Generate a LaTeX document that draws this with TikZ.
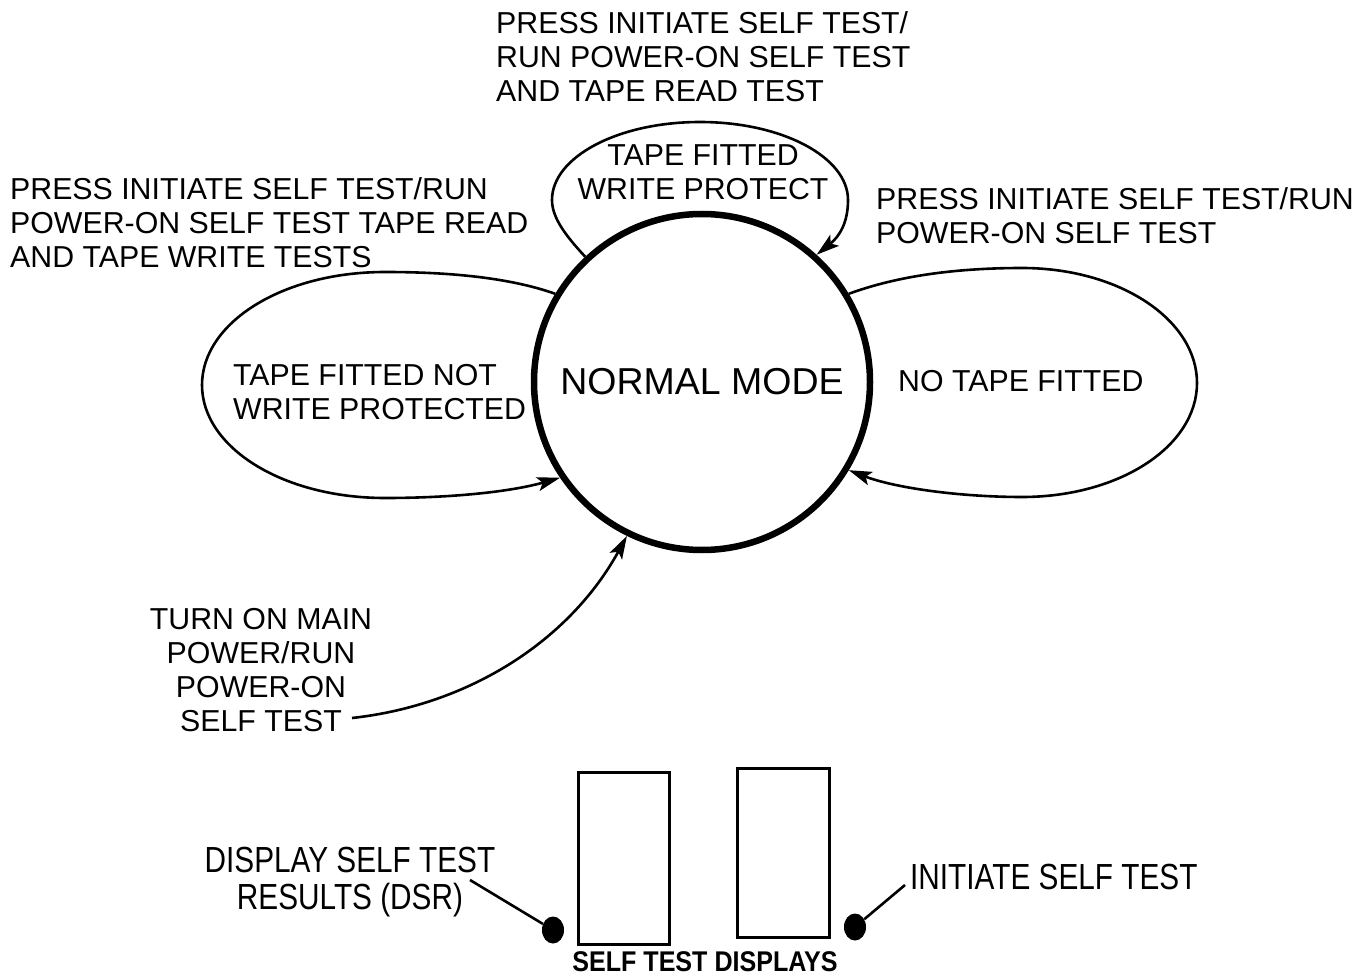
\documentclass[tikz,border=0pt]{standalone}
\usepackage{fontspec}
\setmainfont{Liberation Sans}
\newfontfamily\narrowfont[FakeStretch=0.82]{Liberation Sans}
\newfontfamily\narrowbold[FakeStretch=0.88]{Liberation Sans Bold}
\usetikzlibrary{arrows.meta,shapes.geometric}
\begin{document}
\begin{tikzpicture}[x=1pt,y=1pt,
  lbl/.style={inner sep=0pt, font=\fontsize{30.3}{34}\selectfont},
  loopline/.style={line width=2.6pt, -{Stealth[length=23pt,width=14pt,inset=5pt]}},
  plainline/.style={line width=2.6pt},
  dispbox/.style={draw, line width=3pt, rectangle, inner sep=0pt},
  lamp/.style={ellipse, fill=black, inner sep=0pt, minimum width=22pt, minimum height=27pt},
  botlbl/.style={inner sep=0pt, font=\narrowfont\fontsize{36.3}{37}\selectfont}]
\useasboundingbox (0,0) rectangle (1369,-976);
\fill[white] (0,0) rectangle (1369,-976);

% main state
\node[circle, draw, line width=6.5pt, minimum size=336pt, inner sep=0pt,
      font=\fontsize{37.5}{40}\selectfont] (main) at (702,-382) {NORMAL MODE};

% loops
\draw[loopline] (main.149) .. controls (505,-276) and (440,-272) .. (385,-272)
   .. controls (282,-272) and (202,-323) .. (202,-385)
   .. controls (202,-447) and (282,-498) .. (385,-498)
   .. controls (450,-498) and (510,-492) .. (main.214);
\draw[loopline] (main.133) .. controls (566,-236) and (552,-218) .. (552,-200)
   .. controls (552,-157) and (618,-122) .. (700,-122)
   .. controls (782,-122) and (848,-157) .. (848,-200)
   .. controls (848,-222) and (840,-236) .. (main.48);
\draw[loopline] (main.31) .. controls (900,-275) and (960,-268) .. (1022,-268)
   .. controls (1120,-268) and (1197,-320) .. (1197,-383)
   .. controls (1197,-446) and (1120,-497) .. (1022,-497)
   .. controls (960,-497) and (895,-488) .. (main.-31);

% state labels
\node[lbl, anchor=north, align=center] (wp) at (703,-144) {TAPE FITTED\\WRITE PROTECT};
\node[lbl, anchor=north west, align=left] (nwp) at (233,-364) {TAPE FITTED NOT\\WRITE PROTECTED};
\node[lbl, anchor=west] (nt) at (898,-381) {NO TAPE FITTED};

% transition labels
\node[lbl, anchor=north west, align=left] (t1) at (496,-11)
  {PRESS INITIATE SELF TEST/\\RUN POWER-ON SELF TEST\\AND TAPE READ TEST};
\node[lbl, anchor=north west, align=left] (t2) at (10,-177)
  {PRESS INITIATE SELF TEST/RUN\\POWER-ON SELF TEST TAPE READ\\AND TAPE WRITE TESTS};
\node[lbl, anchor=north west, align=left] (t3) at (876,-187)
  {PRESS INITIATE SELF TEST/RUN\\POWER-ON SELF TEST};
\node[lbl, anchor=north, align=center] (t4) at (261,-608)
  {TURN ON MAIN\\POWER/RUN\\POWER-ON\\SELF TEST};

% power on arrow
\coordinate (pstart) at (352,-718);
\draw[loopline] (pstart) .. controls (470,-705) and (570,-640) .. (main.244);

% self test displays
\node[dispbox, minimum width=91pt, minimum height=172pt] (d1) at (623.5,-858) {};
\node[dispbox, minimum width=92pt, minimum height=169pt] (d2) at (783,-852.5) {};
\node[lamp] (dsr) at (553,-930) {};
\node[lamp] (ist) at (855,-927) {};
\node[botlbl, anchor=north, align=center] (dsrl) at (350,-847)
  {DISPLAY SELF TEST\\RESULTS (DSR)};
\node[botlbl, anchor=north west] (istl) at (910,-864) {INITIATE SELF TEST};
\node[inner sep=0pt, anchor=north, font=\narrowbold\fontsize{28.5}{30}\selectfont] (cap) at (705,-951) {SELF TEST DISPLAYS};
\coordinate (dsrc) at (470,-880);
\coordinate (istc) at (905,-885);
\draw[plainline] (dsrc) -- (dsr);
\draw[plainline] (istc) -- (ist);
\end{tikzpicture}
\end{document}
